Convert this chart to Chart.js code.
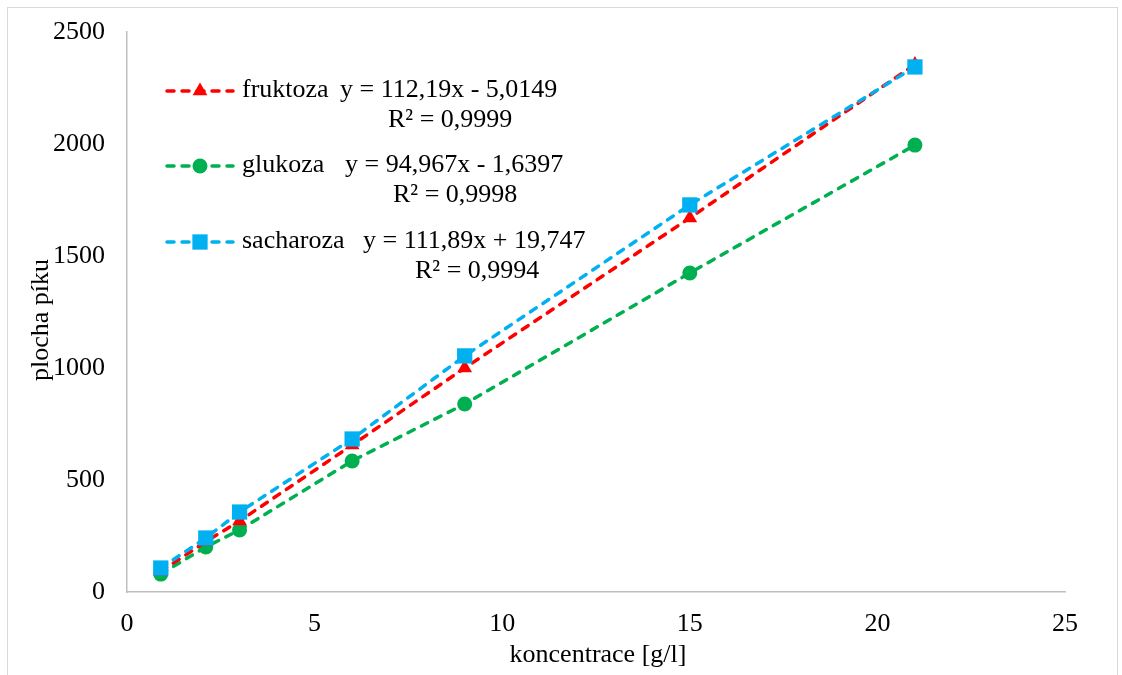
<!DOCTYPE html>
<html>
<head>
<meta charset="utf-8">
<script src="https://cdn.jsdelivr.net/npm/chart.js@4"></script>
<style>
  html, body { margin: 0; padding: 0; background: #fff; }
  #wrap { width: 1122px; height: 675px; }
</style>
</head>
<body>
<div id="wrap"><canvas id="chart" width="1122" height="675"></canvas></div>
<script>
// data
const concentrations = [0.9, 2.1, 3, 6, 9, 15, 21];
const fruktoza = [92, 225, 317, 656, 1000, 1670, 2355];
const glukoza = [80, 201, 277, 585, 839, 1424, 1995];
const sacharoza = [107, 241, 357, 683, 1054, 1728, 2344];

const seriesNames = ['fruktoza', 'glukoza', 'sacharoza'];
const equations = ['y = 112,19x - 5,0149', 'y = 94,967x - 1,6397', 'y = 111,89x + 19,747'];
const r2Labels = ['R² = 0,9999', 'R² = 0,9998', 'R² = 0,9994'];
const xTicks = [0, 5, 10, 15, 20, 25];
const yTicks = [0, 500, 1000, 1500, 2000, 2500];
const xTitle = 'koncentrace [g/l]';
const yTitle = 'plocha píku';

const FONT = 'Liberation Serif, Times New Roman, serif';

function points(ys) {
    return concentrations.map((x, i) => ({ x: x, y: ys[i] }));
}

const styles = [
    { color: '#ff0000', pointStyle: 'triangle', radius: 8.5 },
    { color: '#00b050', pointStyle: 'circle', radius: 7.5 },
    { color: '#00b0f0', pointStyle: 'rect', radius: 10.8 }
];
const seriesValues = [fruktoza, glukoza, sacharoza];
const drawOrder = [2, 3, 1];

const datasets = seriesNames.map((name, i) => ({
    label: name,
    data: points(seriesValues[i]),
    showLine: true,
    borderColor: styles[i].color,
    backgroundColor: styles[i].color,
    borderWidth: 3.5,
    borderDash: [7, 8],
    borderCapStyle: 'round',
    pointStyle: styles[i].pointStyle,
    pointRadius: styles[i].radius,
    pointBorderWidth: 0,
    pointBackgroundColor: styles[i].color,
    order: drawOrder[i]
}));

// white background and thin frame
const framePlugin = {
    id: 'frame',
    beforeDraw(chart) {
        const ctx = chart.ctx;
        ctx.save();
        ctx.fillStyle = '#fff';
        ctx.fillRect(0, 0, chart.width, chart.height);
        ctx.strokeStyle = '#d9d9d9';
        ctx.lineWidth = 1;
        ctx.strokeRect(7.5, 7.5, chart.width - 12, chart.height);
        ctx.restore();
    }
};

// excel-like legend with trendline labels, plus axis titles placed like excel does
const legendPlugin = {
    id: 'trendLegend',
    afterDraw(chart) {
        const ctx = chart.ctx;
        const rows = [91, 166, 242];
        const eqX = [340, 345, 363];
        const r2X = [388, 393, 415];
        ctx.save();
        ctx.font = '26px ' + FONT;
        ctx.fillStyle = '#000';
        ctx.textBaseline = 'alphabetic';
        rows.forEach((y, i) => {
            const st = styles[i];
            ctx.save();
            ctx.strokeStyle = st.color;
            ctx.lineWidth = 3.5;
            ctx.lineCap = 'round';
            ctx.setLineDash([7, 8]);
            ctx.beginPath();
            ctx.moveTo(167, y);
            ctx.lineTo(233, y);
            ctx.stroke();
            ctx.setLineDash([]);
            ctx.fillStyle = st.color;
            Chart.helpers.drawPoint(ctx, {
                pointStyle: st.pointStyle,
                radius: st.radius,
                rotation: 0,
                borderWidth: 0
            }, 200, y);
            ctx.restore();
            ctx.fillText(seriesNames[i], 242, y + 6);
            ctx.fillText(equations[i], eqX[i], y + 6);
            ctx.fillText(r2Labels[i], r2X[i], y + 36);
        });
        ctx.textAlign = 'center';
        ctx.fillText(xTitle, 598, 662);
        ctx.translate(48, 320);
        ctx.rotate(-Math.PI / 2);
        ctx.fillText(yTitle, 0, 0);
        ctx.restore();
    }
};

new Chart(document.getElementById('chart'), {
    type: 'scatter',
    data: { datasets: datasets },
    options: {
        responsive: false,
        animation: false,
        layout: { padding: { left: 0, top: 32, right: 57, bottom: 0 } },
        plugins: {
            legend: { display: false },
            tooltip: { enabled: false }
        },
        scales: {
            x: {
                type: 'linear',
                min: 0,
                max: 25,
                afterBuildTicks: (scale) => { scale.ticks = xTicks.map(v => ({ value: v })); },
                afterFit: (scale) => { scale.height = 83; scale.paddingLeft = 0; scale.paddingRight = 0; },
                grid: { display: false, drawTicks: false },
                border: { display: true, color: '#bfbfbf', width: 1.5 },
                ticks: { color: '#000', padding: 17, font: { family: FONT, size: 26 }, callback: (v) => String(v) }
            },
            y: {
                type: 'linear',
                min: 0,
                max: 2500,
                afterBuildTicks: (scale) => { scale.ticks = yTicks.map(v => ({ value: v })); },
                afterFit: (scale) => { scale.width = 127; scale.paddingTop = 0; scale.paddingBottom = 0; },
                grid: { display: false, drawTicks: false },
                border: { display: true, color: '#bfbfbf', width: 1.5 },
                ticks: { color: '#000', padding: 22, font: { family: FONT, size: 26 }, callback: (v) => String(v) }
            }
        }
    },
    plugins: [framePlugin, legendPlugin]
});
</script>
</body>
</html>
